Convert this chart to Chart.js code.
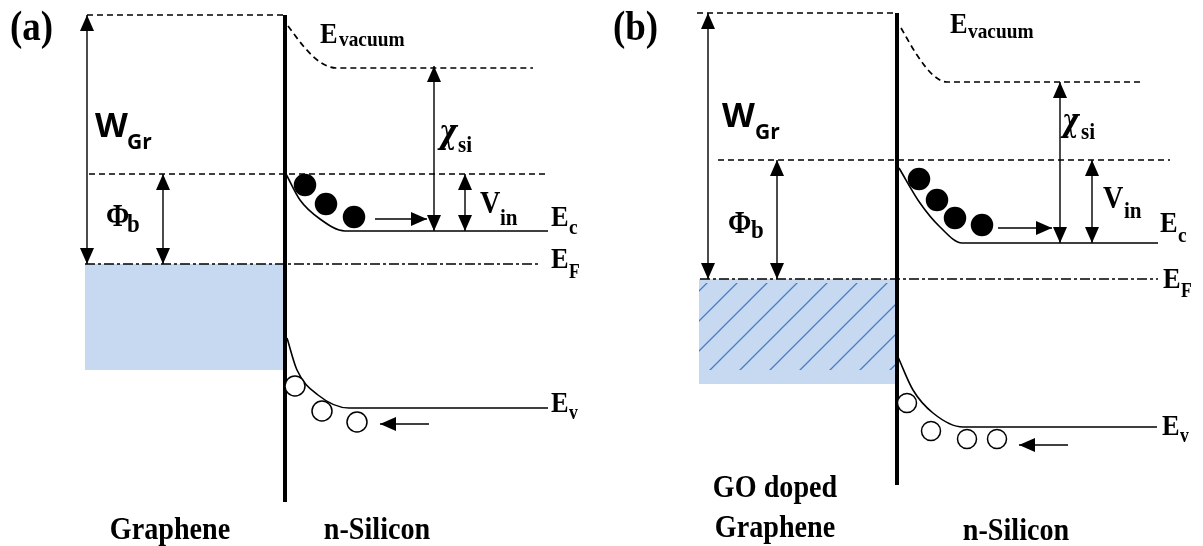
<!DOCTYPE html>
<html>
<head>
<meta charset="utf-8">
<script src="https://cdn.jsdelivr.net/npm/chart.js@4.4.1/dist/chart.umd.min.js"></script>
<style>
  html, body { margin: 0; padding: 0; background: #fff; }
  #wrap { width: 1203px; height: 546px; }
</style>
</head>
<body>
<div id="wrap"><canvas id="bands" width="1203" height="546"></canvas></div>
<script>
// Band diagram: graphene / n-Si (a) and GO doped graphene / n-Si (b)
// values are in diagram units (x = position, y = energy, top = vacuum)

// ---- panel (a) ----
const ifaceA     = [{x:285,y:15},{x:285,y:502}];
const vacTopA    = [{x:87,y:15},{x:283,y:15}];
const vacuumA    = [{x:288,y:26},{x:305,y:48},{x:320,y:62},{x:336,y:68},{x:533,y:68}];
const barrierA   = [{x:89,y:174},{x:548,y:174}];
const fermiA     = [{x:85,y:264},{x:538,y:264}];
const condA      = [{x:286,y:174},{x:300,y:200},{x:320,y:219},{x:345,y:231},{x:548,y:231}];
const valA       = [{x:287,y:338},{x:297,y:370},{x:318,y:395},{x:349,y:408},{x:548,y:408}];
const bandA      = [{x:85,y:264},{x:284,y:264}];
const bandBottomA = 370;
const electronsA = [{x:305,y:185},{x:326,y:204},{x:354,y:217}];
const holesA     = [{x:295,y:386},{x:322,y:411},{x:357,y:422}];
const wArrowA    = [{x:87,y:15},{x:87,y:264}];
const phiArrowA  = [{x:163,y:174},{x:163,y:264}];
const chiArrowA  = [{x:434,y:66},{x:434,y:231}];
const vinArrowA  = [{x:465,y:174},{x:465,y:231}];
const eFlowA     = [{x:375,y:219},{x:427,y:219}];
const hFlowA     = [{x:429,y:424},{x:380,y:424}];

// ---- panel (b) ----
const ifaceB     = [{x:897,y:13},{x:897,y:485}];
const vacTopB    = [{x:697,y:13},{x:895,y:13}];
const vacuumB    = [{x:901,y:28},{x:917,y:55},{x:933,y:75},{x:947,y:82},{x:1143,y:82}];
const barrierB   = [{x:718,y:160},{x:1170,y:160}];
const fermiB     = [{x:700,y:279},{x:1158,y:279}];
const condB      = [{x:899,y:168},{x:920,y:203},{x:940,y:227},{x:962,y:243},{x:1158,y:243}];
const valB       = [{x:898,y:357},{x:913,y:390},{x:933,y:413},{x:963,y:427},{x:1157,y:427}];
const bandB      = [{x:699,y:279},{x:896,y:279}];
const bandBottomB = 384;
const hatchB     = [{x:699,y:283},{x:896,y:283}];
const hatchBottomB = 370;
const electronsB = [{x:919,y:179},{x:937,y:200},{x:955,y:218},{x:982,y:225}];
const holesB     = [{x:907,y:403},{x:931,y:431},{x:967,y:439},{x:997,y:439}];
const wArrowB    = [{x:708,y:13},{x:708,y:279}];
const phiArrowB  = [{x:777,y:160},{x:777,y:279}];
const chiArrowB  = [{x:1060,y:82},{x:1060,y:243}];
const vinArrowB  = [{x:1092,y:160},{x:1092,y:243}];
const eFlowB     = [{x:998,y:228},{x:1052,y:228}];
const hFlowB     = [{x:1068,y:445},{x:1019,y:445}];

// ---- text runs: [text, x, baseline, size, family, align] ----
const labelsA = [
    ['(a)', 10, 40, 42, 'serif', 'left'],
    ['W', 95, 137, 34, 'sans', 'left'], ['Gr', 127, 149, 21, 'sans', 'left'],
    ['\u03A6', 106, 226, 32, 'serif', 'left'], ['b', 127, 232, 26, 'serif', 'left'],
    ['E', 320, 43, 30, 'serif', 'left'], ['vacuum', 339, 46, 22, 'serif', 'left'],
    ['\u03C7', 439, 143, 34, 'greek', 'left'], ['si', 458, 152, 24, 'serif', 'left'],
    ['V', 480, 213, 32, 'serif', 'left'], ['in', 500, 225, 24, 'serif', 'left'],
    ['E', 551, 226, 30, 'serif', 'left'], ['c', 569, 234, 22, 'serif', 'left'],
    ['E', 551, 268, 30, 'serif', 'left'], ['F', 569, 278, 20, 'serif', 'left'],
    ['E', 551, 412, 30, 'serif', 'left'], ['v', 569, 419, 20, 'serif', 'left'],
    ['Graphene', 170, 539, 32, 'serif', 'center'],
    ['n-Silicon', 377, 539, 32, 'serif', 'center']
];
const labelsB = [
    ['(b)', 613, 40, 42, 'serif', 'left'],
    ['W', 722, 127, 34, 'sans', 'left'], ['Gr', 755, 139, 21, 'sans', 'left'],
    ['\u03A6', 728, 233, 32, 'serif', 'left'], ['b', 751, 238, 26, 'serif', 'left'],
    ['E', 950, 33, 30, 'serif', 'left'], ['vacuum', 968, 38, 22, 'serif', 'left'],
    ['\u03C7', 1062, 131, 32, 'greek', 'left'], ['si', 1081, 139, 24, 'serif', 'left'],
    ['V', 1103, 208, 32, 'serif', 'left'], ['in', 1124, 218, 24, 'serif', 'left'],
    ['E', 1160, 232, 30, 'serif', 'left'], ['c', 1178, 242, 22, 'serif', 'left'],
    ['E', 1163, 288, 30, 'serif', 'left'], ['F', 1181, 297, 20, 'serif', 'left'],
    ['E', 1162, 435, 30, 'serif', 'left'], ['v', 1180, 442, 20, 'serif', 'left'],
    ['GO doped', 775, 497, 32, 'serif', 'center'],
    ['Graphene', 775, 537, 32, 'serif', 'center'],
    ['n-Silicon', 1016, 540, 32, 'serif', 'center']
];

const BLUE = '#c6d9f0';
const HATCH = '#4a7ec4';

function hatchPattern() {
    const s = 30;
    const c = document.createElement('canvas');
    c.width = s; c.height = s;
    const g = c.getContext('2d');
    g.strokeStyle = HATCH;
    g.lineWidth = 1.3;
    g.beginPath();
    g.moveTo(0, s); g.lineTo(s, 0);
    g.moveTo(-2, 2); g.lineTo(2, -2);
    g.moveTo(s - 2, s + 2); g.lineTo(s + 2, s - 2);
    g.stroke();
    return g.createPattern(c, 'repeat');
}

function line(data, opts) {
    return Object.assign({ data, showLine: true, borderColor: '#000', borderWidth: 1.4, pointRadius: 0, fill: false, order: 0 }, opts || {});
}
const dashed = { borderDash: [6, 4], borderWidth: 1.7 };
const dashDot = { borderDash: [10, 3, 3, 3], borderWidth: 1.7 };
const curve = { cubicInterpolationMode: 'monotone', borderWidth: 1.6 };

function dots(data, filled, r) {
    return { data, showLine: false, pointRadius: r, pointHoverRadius: r,
        pointBackgroundColor: filled ? '#000' : '#fff', pointBorderColor: '#000', pointBorderWidth: 1.5, order: -1 };
}
function band(data, bottom, color) {
    return { data, showLine: true, borderWidth: 0, borderColor: 'rgba(0,0,0,0)', pointRadius: 0,
        fill: { value: bottom }, backgroundColor: color, order: 5 };
}

const datasets = [
    band(bandA, bandBottomA, BLUE),
    band(bandB, bandBottomB, BLUE),
    Object.assign(band(hatchB, hatchBottomB, hatchPattern()), { order: 4 }),

    line(vacTopA, dashed), line(vacuumA, Object.assign({}, curve, dashed)), line(barrierA, dashed),
    line(fermiA, dashDot), line(condA, curve), line(valA, curve),
    line(ifaceA, { borderWidth: 4 }),
    line(wArrowA, { arrow: 'both' }), line(phiArrowA, { arrow: 'both' }),
    line(chiArrowA, { arrow: 'both' }), line(vinArrowA, { arrow: 'both' }),
    line(eFlowA, { arrow: 'end' }), line(hFlowA, { arrow: 'end' }),
    dots(electronsA, true, 10.5), dots(holesA, false, 10),

    line(vacTopB, dashed), line(vacuumB, Object.assign({}, curve, dashed)), line(barrierB, dashed),
    line(fermiB, dashDot), line(condB, curve), line(valB, curve),
    line(ifaceB, { borderWidth: 4 }),
    line(wArrowB, { arrow: 'both' }), line(phiArrowB, { arrow: 'both' }),
    line(chiArrowB, { arrow: 'both' }), line(vinArrowB, { arrow: 'both' }),
    line(eFlowB, { arrow: 'end' }), line(hFlowB, { arrow: 'end' }),
    dots(electronsB, true, 10.5), dots(holesB, false, 9.5)
];

// Filled triangle heads at the ends of arrow datasets
const arrowHeads = {
    id: 'arrowHeads',
    afterDatasetsDraw(chart) {
        const ctx = chart.ctx;
        chart.data.datasets.forEach((ds, i) => {
            if (!ds.arrow) return;
            const pts = chart.getDatasetMeta(i).data;
            const head = (tip, from) => {
                const dx = tip.x - from.x, dy = tip.y - from.y;
                const len = Math.hypot(dx, dy) || 1;
                const ux = dx / len, uy = dy / len;
                const L = 16, H = 7;
                ctx.beginPath();
                ctx.moveTo(tip.x, tip.y);
                ctx.lineTo(tip.x - ux * L - uy * H, tip.y - uy * L + ux * H);
                ctx.lineTo(tip.x - ux * L + uy * H, tip.y - uy * L - ux * H);
                ctx.closePath();
                ctx.fill();
            };
            ctx.save();
            ctx.fillStyle = '#000';
            const a = pts[0], b = pts[pts.length - 1];
            head(b, a);
            if (ds.arrow === 'both') head(a, b);
            ctx.restore();
        });
    }
};

// Text labels placed through the scales
const FONTS = {
    sans:  ['bold', '"Open Sans", "Liberation Sans", sans-serif', 1],
    serif: ['bold', '"Liberation Serif", "DejaVu Serif", serif', 0.88],
    greek: ['italic bold', '"DejaVu Serif", "Liberation Serif", serif', 0.8]
};
const textLabels = {
    id: 'textLabels',
    afterDraw(chart) {
        const ctx = chart.ctx;
        const xs = chart.scales.x, ys = chart.scales.y;
        labelsA.concat(labelsB).forEach(([t, x, y, size, fam, align]) => {
            const [style, family, sx] = FONTS[fam];
            ctx.save();
            ctx.fillStyle = '#000';
            ctx.textBaseline = 'alphabetic';
            ctx.textAlign = align;
            ctx.font = `${style} ${size}px ${family}`;
            ctx.translate(xs.getPixelForValue(x), ys.getPixelForValue(y));
            ctx.scale(sx, 1);
            ctx.fillText(t, 0, 0);
            ctx.restore();
        });
    }
};

new Chart(document.getElementById('bands').getContext('2d'), {
    type: 'scatter',
    data: { datasets },
    options: {
        responsive: false,
        animation: false,
        layout: { padding: 0, autoPadding: false },
        plugins: { legend: { display: false }, tooltip: { enabled: false } },
        scales: {
            x: { type: 'linear', min: 0, max: 1203, display: false },
            y: { type: 'linear', min: 0, max: 546, reverse: true, display: false }
        }
    },
    plugins: [arrowHeads, textLabels]
});
</script>
</body>
</html>
